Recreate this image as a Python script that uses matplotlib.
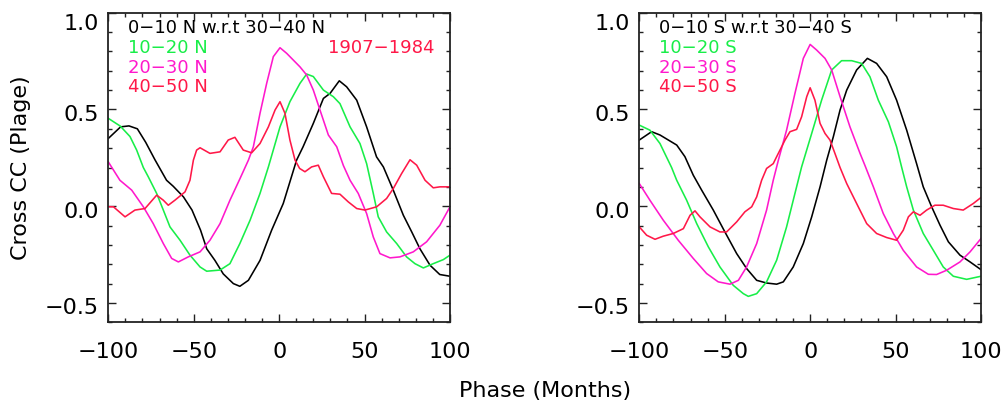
import matplotlib
matplotlib.use("Agg")
import matplotlib.pyplot as plt
from matplotlib.ticker import MultipleLocator
import matplotlib.transforms as mtransforms

# ---------------- data ----------------
# North panel
n_black_x = [-100, -92.8, -87.9, -83, -78.1, -72.7, -65.9, -62, -56, -51, -46, -42.4, -37.6, -32.7,
             -26.8, -23, -18, -11.2, -4.4, 2.4, 10.2, 14, 20, 25.9, 29.8, 35.2, 39.5, 45.4, 51.2,
             57, 61, 66.8, 72.7, 77.6, 82.4, 88.3, 94, 100]
n_black_y = [0.35, 0.41, 0.415, 0.40, 0.33, 0.24, 0.134, 0.103, 0.048, -0.02, -0.124, -0.22, -0.28,
             -0.35, -0.40, -0.414, -0.383, -0.28, -0.124, 0.014, 0.238, 0.307, 0.428, 0.557, 0.583,
             0.648, 0.617, 0.548, 0.41, 0.255, 0.203, 0.083, -0.047, -0.133, -0.22, -0.305, -0.353,
             -0.362]

n_green_x = [-100, -93, -87.3, -83.4, -79.5, -76.6, -71.7, -67.8, -63.9, -58, -52.2, -46.3, -42.4,
             -34.6, -28.8, -23, -17, -11.2, -6.3, 0.5, 6.3, 12.2, 16.1, 20, 25.9, 31.7, 35.6, 41.5,
             47.3, 51.2, 55.1, 58, 62.9, 68.8, 74.6, 79.5, 84.4, 90.2, 96.1, 100]
n_green_y = [0.454, 0.414, 0.36, 0.29, 0.2, 0.152, 0.066, -0.02, -0.107, -0.176, -0.253, -0.314,
             -0.336, -0.33, -0.297, -0.193, -0.072, 0.066, 0.203, 0.41, 0.54, 0.635, 0.683, 0.67,
             0.60, 0.566, 0.53, 0.41, 0.324, 0.22, 0.066, -0.055, -0.133, -0.193, -0.262, -0.297,
             -0.319, -0.297, -0.276, -0.253]

n_mag_x = [-100, -93.2, -86.3, -79.5, -73.7, -67.8, -62.9, -59, -53.2, -46.3, -40.5, -34.6, -28.8,
           -22.9, -18, -15.1, -11.2, -7.3, -3.4, 0.5, 4.4, 8.3, 12.2, 16.1, 20, 23.9, 28.8, 33.7,
           37.6, 41.5, 46.3, 51.2, 55.1, 59, 64.9, 70.7, 78.5, 86.3, 94.1, 100]
n_mag_y = [0.229, 0.134, 0.083, -0.003, -0.09, -0.193, -0.27, -0.288, -0.262, -0.236, -0.176, -0.09,
           0.031, 0.143, 0.238, 0.307, 0.48, 0.635, 0.773, 0.819, 0.79, 0.755, 0.72, 0.678, 0.60,
           0.497, 0.368, 0.307, 0.21, 0.134, 0.066, -0.038, -0.159, -0.245, -0.267, -0.262, -0.236,
           -0.184, -0.098, -0.003]

n_red_x = [-100, -97, -90.2, -84.4, -78.5, -71.7, -67.8, -64.9, -61, -55.1, -52.2, -50.2, -48.3,
           -46.3, -40.5, -34.6, -29.8, -25.9, -21, -16.1, -11.2, -6.3, -2.4, 0.5, 3.4, 6.3, 9.3,
           12, 15.1, 19, 22.9, 25.9, 30.7, 35.6, 40.5, 45.4, 50.2, 57.1, 62.9, 66.8, 71.7, 76.6,
           80.5, 85.4, 90.2, 94.1, 100]
n_red_y = [-0.003, -0.003, -0.055, -0.02, -0.012, 0.057, 0.031, 0.005, 0.031, 0.074, 0.134, 0.238,
           0.29, 0.302, 0.273, 0.281, 0.342, 0.356, 0.29, 0.276, 0.324, 0.41, 0.497, 0.54, 0.48,
           0.342, 0.238, 0.195, 0.178, 0.203, 0.212, 0.152, 0.066, 0.062, 0.022, -0.012, -0.02,
           -0.003, 0.04, 0.091, 0.169, 0.24, 0.212, 0.134, 0.095, 0.10, 0.10]

# South panel
s_black_x = [-100, -92.8, -87.9, -83, -78.1, -73.3, -68.4, -63.5, -56.7, -49.9, -43, -37.2, -31.3,
             -25.5, -19.6, -15.7, -9.9, -4, 0.9, 5.8, 9.7, 13.6, 17.5, 21.4, 27.2, 33.5, 38.9, 44.8,
             50.6, 56.5, 62.3, 66.2, 71.1, 76, 80.9, 87.7, 93.6, 100]
s_black_y = [0.342, 0.385, 0.368, 0.342, 0.316, 0.256, 0.16, 0.083, -0.02, -0.133, -0.245, -0.322,
             -0.383, -0.397, -0.403, -0.391, -0.314, -0.193, -0.055, 0.10, 0.238, 0.36, 0.497, 0.60,
             0.704, 0.764, 0.738, 0.669, 0.548, 0.393, 0.22, 0.10, -0.003, -0.098, -0.184, -0.253,
             -0.288, -0.328]

s_green_x = [-100, -93.8, -87.9, -81.1, -78.1, -72.3, -66.4, -59.6, -52.8, -45, -39.1, -36.2, -31.3,
             -25.5, -19.6, -13.8, -8.9, -5, 0.9, 6.7, 12.6, 18.4, 24.3, 30.1, 35, 39.9, 45.8, 50.6,
             53.6, 56.5, 60.4, 66.2, 72.1, 77.9, 83.8, 91.6, 100]
s_green_y = [0.419, 0.393, 0.324, 0.2, 0.134, 0.031, -0.09, -0.21, -0.314, -0.409, -0.452, -0.466,
             -0.452, -0.391, -0.279, -0.107, 0.066, 0.203, 0.376, 0.548, 0.704, 0.752, 0.752, 0.738,
             0.669, 0.548, 0.436, 0.307, 0.2, 0.10, -0.02, -0.141, -0.228, -0.314, -0.362, -0.378,
             -0.362]

s_mag_x = [-100, -93.8, -86, -77.2, -68.4, -60.6, -53.8, -46.9, -42, -37.2, -31.3, -25.5, -21.6,
           -18.6, -13.8, -8.9, -4, 0, 3.8, 8.7, 12.6, 17.5, 23.3, 29.2, 32.1, 37, 42.8, 48.7, 54.5,
           62.3, 69.2, 74, 79.9, 87.7, 93.6, 100]
s_mag_y = [0.117, 0.031, -0.072, -0.176, -0.27, -0.348, -0.391, -0.403, -0.383, -0.314, -0.193,
           -0.02, 0.134, 0.238, 0.393, 0.583, 0.764, 0.836, 0.807, 0.764, 0.704, 0.566, 0.41,
           0.273, 0.21, 0.10, -0.038, -0.141, -0.228, -0.314, -0.352, -0.353, -0.331, -0.288,
           -0.236, -0.167]

s_red_x = [-100, -95.7, -90.8, -86, -80.1, -74.2, -70.3, -67.4, -64.5, -58.6, -52.8, -48.9, -43,
           -38.2, -34.2, -31.3, -28.4, -25.5, -21.6, -19.6, -14.7, -11.8, -7.9, -5, -2, 0, 2.8,
           5.8, 8.7, 11.6, 14.5, 17.5, 21.4, 27.2, 33.1, 38.9, 44.8, 50.6, 54.5, 57.5, 60.4, 64.3,
           68.2, 73, 77.9, 83.8, 89.6, 95.5, 100]
s_red_y = [-0.107, -0.15, -0.171, -0.155, -0.141, -0.116, -0.047, -0.024, -0.055, -0.107, -0.133,
           -0.133, -0.081, -0.029, -0.003, 0.048, 0.134, 0.195, 0.22, 0.256, 0.342, 0.385, 0.397,
           0.462, 0.566, 0.612, 0.548, 0.428, 0.376, 0.342, 0.273, 0.2, 0.117, 0.014, -0.09,
           -0.141, -0.162, -0.176, -0.124, -0.055, -0.029, -0.047, -0.02, 0.005, 0.005, -0.012,
           -0.02, 0.014, 0.045]

north_labels = ["0\u221210 N w.r.t 30\u221240 N", "10\u221220 N", "20\u221230 N", "40\u221250 N"]
south_labels = ["0\u221210 S w.r.t 30\u221240 S", "10\u221220 S", "20\u221230 S", "40\u221250 S"]
period_label = "1907\u22121984"
x_ticks = [-100, -50, 0, 50, 100]
y_ticks = [-0.5, 0.0, 0.5, 1.0]
xlabel = "Phase (Months)"
ylabel = "Cross CC (Plage)"

colors = ["#000000", "#18EE48", "#FF18CC", "#FF1848"]

plt.rcParams['font.family'] = ['DejaVu Sans']

W, H = 1005, 405
fig = plt.figure(figsize=(W / 100, H / 100), dpi=100)

def px_axes(x0, x1, y0, y1):
    return fig.add_axes([x0 / W, 1 - y1 / H, (x1 - x0) / W, (y1 - y0) / H])

axL = px_axes(108.3, 450.0, 12.7, 322.3)
axR = px_axes(639.3, 981.0, 12.7, 322.3)

north = [(n_black_x, n_black_y), (n_green_x, n_green_y), (n_mag_x, n_mag_y), (n_red_x, n_red_y)]
south = [(s_black_x, s_black_y), (s_green_x, s_green_y), (s_mag_x, s_mag_y), (s_red_x, s_red_y)]

for ax, series, labels in [(axL, north, north_labels), (axR, south, south_labels)]:
    for (xs, ys), c in zip(series, colors):
        ax.plot(xs, ys, color=c, lw=1.15, solid_joinstyle='round')
    ax.set_xlim(-100, 100)
    ax.set_ylim(-0.6, 1.0)
    ax.set_xticks(x_ticks)
    ax.set_yticks(y_ticks)
    ax.set_yticklabels([f"{v:.1f}".replace("-", "\u2212") for v in y_ticks])
    ax.set_xticklabels([str(v).replace("-", "\u2212") for v in x_ticks])
    ax.xaxis.set_minor_locator(MultipleLocator(10))
    ax.yaxis.set_minor_locator(MultipleLocator(0.1))
    ax.tick_params(which='both', direction='in', top=True, right=True, color='#222222', width=1.0)
    ax.tick_params(which='major', length=6)
    ax.tick_params(which='minor', length=3)
    ax.tick_params(axis='x', which='major', labelsize=16, pad=14)
    ax.tick_params(axis='y', which='major', labelsize=16, pad=7)
    for sp in ax.spines.values():
        sp.set_linewidth(1.3)
        sp.set_color('#222222')
    # shift y tick labels slightly down, the top one more
    for lab, v in zip(ax.get_yticklabels(), y_ticks):
        dy = -7 / 72 if v == 1.0 else -2.5 / 72
        lab.set_transform(lab.get_transform() + mtransforms.ScaledTranslation(0, dy, fig.dpi_scale_trans))
    # legend-like text
    base = [0.9335, 0.869, 0.806, 0.743]
    for lab, c, yb in zip(labels, colors, base):
        ax.text(0.0585, yb, lab, color=c, fontsize=13, transform=ax.transAxes,
                ha='left', va='baseline')

axL.text(0.956, 0.869, period_label, color=colors[3], fontsize=13, transform=axL.transAxes,
         ha='right', va='baseline')

fig.text(545 / W, 1 - 391 / H, xlabel, fontsize=16, ha='center', va='center')
fig.text(21 / W, 1 - 167.5 / H, ylabel, fontsize=16, ha='center', va='center', rotation=90)

fig.savefig("out.png", dpi=100)
